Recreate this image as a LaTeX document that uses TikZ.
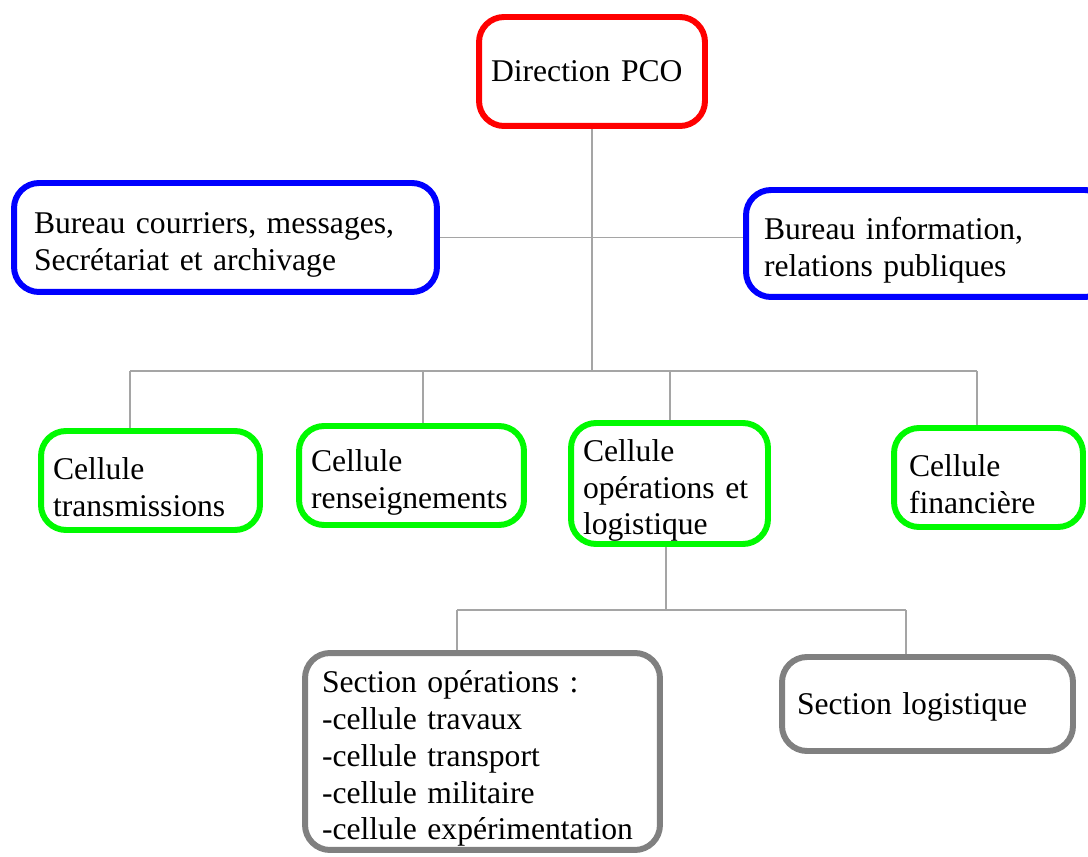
\documentclass[tikz,border=0pt]{standalone}
\usepackage{fontspec}
\setmainfont[WordSpace=0.85]{Liberation Serif}
\usetikzlibrary{backgrounds}
\definecolor{linkgray}{RGB}{165,165,165}
\definecolor{sectiongray}{RGB}{128,128,128}
\definecolor{cellgreen}{RGB}{0,250,0}
\tikzset{
  unit/.style={draw, line width=3.4pt, rounded corners=0.5cm, align=left,
    inner ysep=0pt, font=\fontsize{18}{21}\selectfont,
    execute at end node={\par\kern-8pt}},
  dirbox/.style={unit, draw=red},
  bureaubox/.style={unit, draw=blue},
  cellbox/.style={unit, draw=cellgreen},
  sectionbox/.style={unit, draw=sectiongray},
  link/.style={draw=linkgray, line width=0.6pt}
}
\begin{document}
\begin{tikzpicture}[x=0.02cm, y=-0.02cm]
      \useasboundingbox (0,0) rectangle (1088,857);

      % direction et bureaux
      \node[dirbox, text width=4.04cm, inner xsep=0.24cm, minimum height=2.18cm] (dir) at (592,71.5) {Direction PCO};
      \node[bureaubox, text width=7.66cm, inner xsep=0.4cm, minimum height=2.18cm] (courrier) at (225.5,237.5) {Bureau courriers, messages,\\Secrétariat et archivage};
      \node[bureaubox, text width=6.56cm, inner xsep=0.36cm, minimum height=2.14cm] (info) at (928,243.5) {Bureau information,\\relations publiques};

      % cellules
      \node[cellbox, text width=3.90cm, inner xsep=0.24cm, minimum height=1.98cm] (trans) at (150.5,480.5) {Cellule\\transmissions};
      \node[cellbox, text width=4.02cm, inner xsep=0.24cm, minimum height=1.98cm] (rens) at (411.5,475.5) {Cellule\\renseignements};
      \node[cellbox, text width=3.46cm, inner xsep=0.24cm, minimum height=2.42cm] (ops) at (669.5,483.5) {Cellule\\opérations et\\logistique};
      \node[cellbox, text width=3.18cm, inner xsep=0.30cm, minimum height=1.98cm] (fin) at (988.5,477.5) {Cellule\\financière};

      % sections
      \node[sectionbox, text width=6.42cm, inner xsep=0.34cm, minimum height=3.94cm] (secops) at (482.5,751.5) {Section opérations :\\-cellule travaux\\-cellule transport\\-cellule militaire\\-cellule expérimentation};
      \node[sectionbox, text width=5.22cm, inner xsep=0.30cm, minimum height=1.88cm] (seclog) at (927.5,704) {Section logistique};

      \begin{scope}[on background layer]
        \coordinate (bus) at (592,371);
        \draw[link] (dir.south) -- (bus);
        \draw[link] (courrier.east) -- (courrier.east -| info.west);

        \coordinate (busW) at (130,371);
        \coordinate (busE) at (977,371);
        \coordinate (tRens) at (423,371);
        \coordinate (tOps) at (670,371);
        \draw[link] (busW) -- (busE);
        \draw[link] (busW) -- (busW |- trans.north);
        \draw[link] (tRens) -- (tRens |- rens.north);
        \draw[link] (tOps) -- (tOps |- ops.north);
        \draw[link] (busE) -- (busE |- fin.north);

        \coordinate (sub) at (666,610);
        \coordinate (subW) at (457,610);
        \coordinate (subE) at (906,610);
        \draw[link] (sub |- ops.south) -- (sub);
        \draw[link] (subW) -- (subE);
        \draw[link] (subW) -- (subW |- secops.north);
        \draw[link] (subE) -- (subE |- seclog.north);
      \end{scope}
\end{tikzpicture}
\end{document}
